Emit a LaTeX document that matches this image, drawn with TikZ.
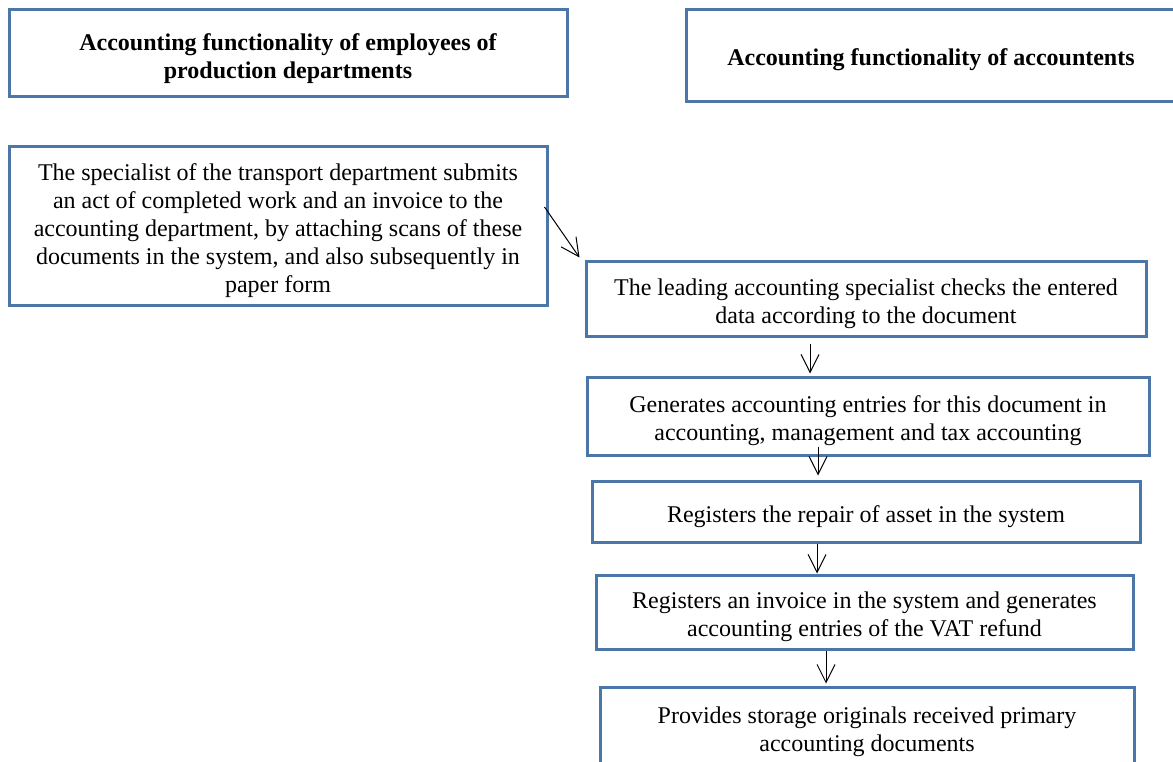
\documentclass[tikz,border=0pt]{standalone}
\usepackage{fontspec}
\setmainfont{Liberation Serif}
\usetikzlibrary{arrows.meta}
\definecolor{boxblue}{RGB}{74,118,168}
\newcommand{\txtdown}{\rule{0pt}{27pt}}
\tikzset{
  box/.style={draw=boxblue, line width=3pt, fill=white, align=center, inner sep=0pt,
    font=\fontsize{24pt}{28pt}\selectfont},
  tbox/.style={box, font=\fontsize{24pt}{28pt}\selectfont\bfseries},
  arr/.style={-{Straight Barb[length=18pt,width=18pt]}, line width=1pt, black}
}
\begin{document}
\begin{tikzpicture}[x=1pt,y=-1pt]
\useasboundingbox (0,0) rectangle (1173,762);
\fill[white] (0,0) rectangle (1173,762);
\node[tbox, minimum width=558pt, minimum height=87pt] (A) at (288,53.5)
  {\txtdown Accounting functionality of employees of\\production departments};
\node[tbox, minimum width=490pt, minimum height=92pt] (B) at (931,56) {};
\node[font=\fontsize{24pt}{28pt}\selectfont\bfseries] (Bt) at (931,60) {Accounting functionality of accountents};
\node[box, minimum width=538pt, minimum height=159pt] (C) at (278,226)
  {\txtdown The specialist of the transport department submits\\an act of completed work and an invoice to the\\accounting department, by attaching scans of these\\documents in the system, and also subsequently in\\paper form};
\node[box, minimum width=560pt, minimum height=74pt] (D) at (866,299)
  {\txtdown The leading accounting specialist checks the entered\\data according to the document};
\node[box, minimum width=562pt, minimum height=78pt] (E) at (868,416)
  {\txtdown Generates accounting entries for this document in\\accounting, management and tax accounting};
\node[box, minimum width=548pt, minimum height=61pt] (F) at (866,511.5)
  {\txtdown Registers the repair of asset in the system};
\node[box, minimum width=537pt, minimum height=74pt] (G) at (864.5,612)
  {\txtdown Registers an invoice in the system and generates\\accounting entries of the VAT refund};
\node[box, minimum width=534pt, minimum height=100pt] (H) at (867,737)
  {};
\node[font=\fontsize{24pt}{28pt}\selectfont, align=center] (Ht) at (867,732)
  {Provides storage originals received primary\\accounting documents};
\draw[arr] ([xshift=-4pt,yshift=19pt]C.east) -- ([xshift=-5pt,yshift=3pt]D.north west);
\draw[arr] ([xshift=-56pt,yshift=-6pt]D.south) -- ([xshift=-58pt,yshift=2pt]E.north);
\draw[arr] ([xshift=-50pt,yshift=10pt]E.south) -- ([xshift=-48pt,yshift=4pt]F.north);
\draw[arr] ([xshift=-49pt]F.south) -- ([xshift=-47.5pt]G.north);
\draw[arr] ([xshift=-38.5pt]G.south) -- ([xshift=-41pt,yshift=2pt]H.north);
\end{tikzpicture}
\end{document}
